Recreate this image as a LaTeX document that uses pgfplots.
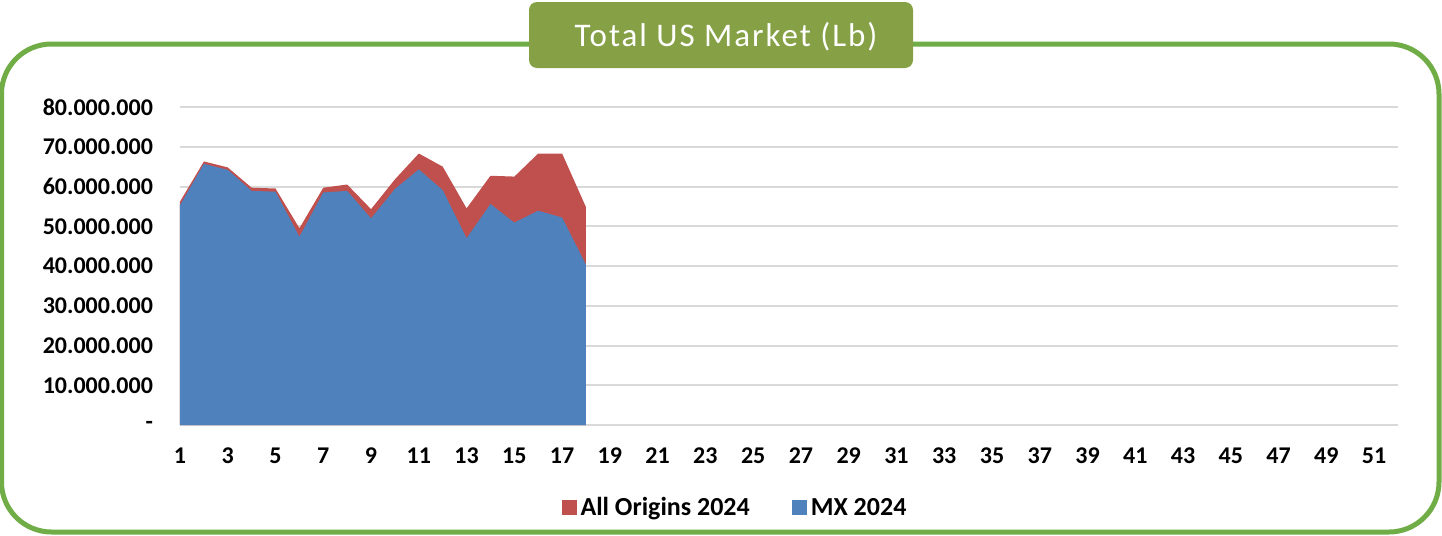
\documentclass[border=0pt]{standalone}
\usepackage{fontspec}
\setmainfont{Carlito}
\usepackage{pgfplots}
\pgfplotsset{compat=1.18}
\definecolor{AllRed}{HTML}{C0504D}
\definecolor{MxBlue}{HTML}{4F81BD}
\definecolor{FrameGreen}{HTML}{70AD47}
\definecolor{TitleOlive}{HTML}{85A045}
\definecolor{GridGray}{HTML}{D9D9D9}

% week, all origins 2024, MX 2024 (lb)
\usepackage{pgfplotstable}
\pgfplotstableread{
week all     mx
1  56200000 55300000
2  66300000 65700000
3  64800000 64200000
4  59700000 58900000
5  59500000 58700000
6  49500000 47400000
7  59700000 58500000
8  60500000 58900000
9  54300000 52000000
10 61800000 59400000
11 68300000 64300000
12 65000000 59100000
13 54500000 47000000
14 62700000 55600000
15 62500000 50900000
16 68300000 53900000
17 68300000 52200000
18 54800000 40300000
}\market

\begin{document}
\begin{tikzpicture}
\useasboundingbox (0,0) rectangle (721pt,-268pt);
\begin{scope}[x=0.5pt,y=-0.5pt]
\draw[FrameGreen, line width=2.5pt, rounded corners=25pt] (1.5,44) rectangle (1439,532);
\fill[TitleOlive, rounded corners=4pt] (529,2) rectangle (913,68);
\node[white, font=\fontsize{16.5}{19}\selectfont\addfontfeature{LetterSpace=6}] at (726,37) {Total US Market (Lb)};
\end{scope}
\begin{axis}[
 at={(90pt,-212.5pt)}, anchor=south west,
 scale only axis, width=609pt, height=159pt,
 xmin=1, xmax=52, ymin=0, ymax=80000000,
 xtick={1,3,5,7,9,11,13,15,17,19,21,23,25,27,29,31,33,35,37,39,41,43,45,47,49,51},
 ytick={0,10000000,20000000,30000000,40000000,50000000,60000000,70000000,80000000},
 yticklabels={-,10.000.000,20.000.000,30.000.000,40.000.000,50.000.000,60.000.000,70.000.000,80.000.000},
 scaled y ticks=false,
 /pgf/number format/assume math mode=true,
 ymajorgrids, grid style={GridGray, line width=1pt},
 axis line style={draw=none}, major tick length=0pt,
 tick label style={font=\fontsize{12}{14}\selectfont\bfseries},
 xticklabel style={yshift=-8pt},
 yticklabel style={xshift=-10pt},
 legend style={at={(0.4565,-0.262)}, anchor=center, draw=none, fill=none,
  legend columns=2, font=\fontsize{13}{15}\selectfont\bfseries,
  /tikz/every even column/.append style={column sep=19pt}},
 legend image code/.code={\fill[#1] (0pt,-3.5pt) rectangle (7.5pt,4pt);},
 clip=false,
]
\addplot[fill=AllRed, draw=none] table[x=week, y=all] {\market} \closedcycle;
\addlegendentry{All Origins 2024}
\addplot[fill=MxBlue, draw=none] table[x=week, y=mx] {\market} \closedcycle;
\addlegendentry{MX 2024}
\end{axis}
\end{tikzpicture}
\end{document}
